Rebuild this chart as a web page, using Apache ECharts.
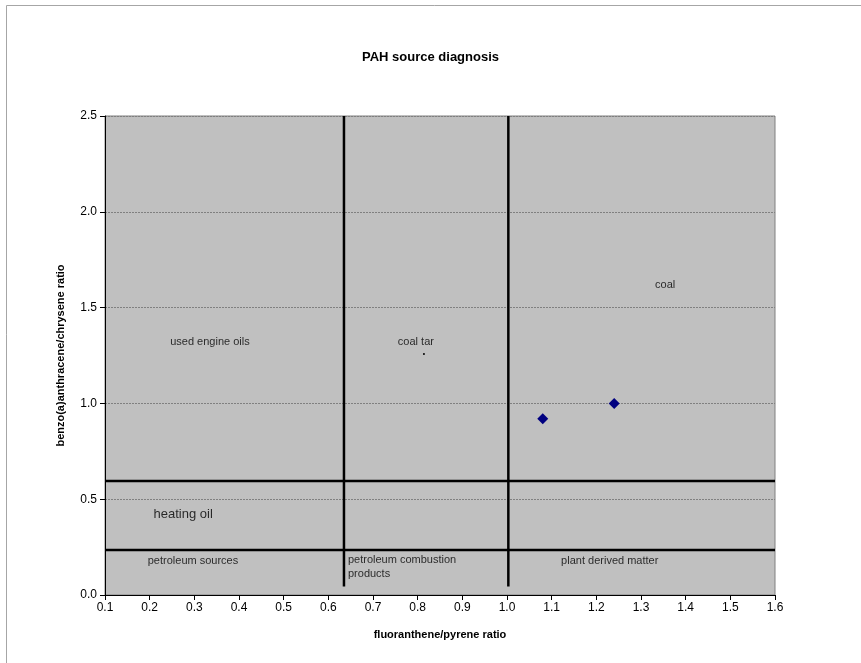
<!DOCTYPE html>
<html>
<head>
<meta charset="utf-8">
<script src="https://cdn.jsdelivr.net/npm/echarts@6/dist/echarts.min.js"></script>
<style>
  html, body { margin: 0; padding: 0; background: #fff; }
  #chart { width: 861px; height: 663px; }
</style>
</head>
<body>
<div id="chart"></div>
<script>
// Measured samples: fluoranthene/pyrene vs benzo(a)anthracene/chrysene
const sampleX = [1.08, 1.24];
const sampleY = [0.92, 1.0];

// Stray point inside the coal tar box
const strayPoint = [[0.814, 1.258]];

// Diagnostic boundaries
const vBoundaries = [0.635, 1.003];        // fluoranthene/pyrene cut-offs
const vBoundaryRange = [0.045, 2.5];
const hBoundaries = [0.595, 0.235];        // benzo(a)anthracene/chrysene cut-offs
const hBoundaryRange = [0.1, 1.6];

// Source region names and where they sit (data units)
const regionNames = ['used engine oils', 'coal tar', 'coal', 'petroleum sources', 'plant derived matter'];
const regionX = [0.335, 0.796, 1.354, 0.297, 1.23];
const regionY = [1.32, 1.32, 1.62, 0.18, 0.18];
const heatingOil = { name: 'heating oil', x: 0.275, y: 0.42 };
const combustion = { name: 'petroleum combustion\nproducts', x: 0.644, y: 0.146 };

const xTicks = [0.1, 1.6, 0.1];
const yTicks = [0, 2.5, 0.5];

const FONT = '"Liberation Sans", Arial, sans-serif';

const series = [];

vBoundaries.forEach(function (v) {
  series.push({
    type: 'line', data: [[v, vBoundaryRange[0]], [v, vBoundaryRange[1]]],
    symbol: 'none', silent: true,
    lineStyle: { color: '#000', width: 2.5 }, z: 3
  });
});
hBoundaries.forEach(function (h) {
  series.push({
    type: 'line', data: [[hBoundaryRange[0], h], [hBoundaryRange[1], h]],
    symbol: 'none', silent: true,
    lineStyle: { color: '#000', width: 2.5 }, z: 3
  });
});

series.push({
  type: 'scatter', symbol: 'circle', symbolSize: 0, silent: true,
  data: regionNames.map(function (n, i) { return { value: [regionX[i], regionY[i]], name: n }; }),
  label: { show: true, position: 'inside', formatter: '{b}', color: '#000', fontSize: 11, fontFamily: FONT },
  z: 4
});
series.push({
  type: 'scatter', symbol: 'circle', symbolSize: 0, silent: true,
  data: [{ value: [heatingOil.x, heatingOil.y], name: heatingOil.name }],
  label: { show: true, position: 'inside', formatter: '{b}', color: '#000', fontSize: 13, fontFamily: FONT },
  z: 4
});
series.push({
  type: 'scatter', symbol: 'circle', symbolSize: 0, silent: true,
  data: [{ value: [combustion.x, combustion.y], name: combustion.name }],
  label: { show: true, position: 'inside', formatter: '{b}', align: 'left', color: '#000', fontSize: 11, lineHeight: 14, fontFamily: FONT },
  z: 4
});

series.push({
  type: 'scatter', symbol: 'circle', symbolSize: 2,
  data: strayPoint, itemStyle: { color: '#000', opacity: 1 }, z: 5
});

series.push({
  type: 'scatter', symbol: 'diamond', symbolSize: 11,
  data: sampleX.map(function (x, i) { return [x, sampleY[i]]; }),
  itemStyle: { color: '#000080', opacity: 1 }, z: 6
});

const chart = echarts.init(document.getElementById('chart'), null, { renderer: 'canvas' });
chart.setOption({
  animation: false,
  backgroundColor: '#fff',
  title: {
    text: 'PAH source diagnosis', left: 'center', top: 46,
    textStyle: { fontFamily: FONT, fontSize: 13, fontWeight: 'bold', color: '#000' }
  },
  graphic: [{
    type: 'rect', shape: { x: 6.5, y: 5.5, width: 900, height: 700 },
    style: { fill: 'none', stroke: '#a6a6a6', lineWidth: 1 }, silent: true, z: -1
  }],
  grid: {
    left: 105, top: 116, width: 670, height: 479,
    show: true, backgroundColor: '#C0C0C0', borderColor: '#808080', borderWidth: 1
  },
  xAxis: {
    type: 'value', min: xTicks[0], max: xTicks[1], interval: xTicks[2],
    name: 'fluoranthene/pyrene ratio', nameLocation: 'middle', nameGap: 34,
    nameTextStyle: { fontFamily: FONT, fontSize: 11, fontWeight: 'bold', color: '#000' },
    axisLine: { lineStyle: { color: '#000', width: 1 } },
    axisTick: { show: true, length: 5, lineStyle: { color: '#000' } },
    axisLabel: { fontFamily: FONT, fontSize: 12, color: '#000', margin: 7,
      formatter: function (v) { return v.toFixed(1); } },
    splitLine: { show: false }
  },
  yAxis: {
    type: 'value', min: yTicks[0], max: yTicks[1], interval: yTicks[2],
    name: 'benzo(a)anthracene/chrysene ratio', nameLocation: 'middle', nameGap: 39,
    nameTextStyle: { fontFamily: FONT, fontSize: 11, fontWeight: 'bold', color: '#000' },
    axisLine: { show: true, lineStyle: { color: '#000', width: 1 } },
    axisTick: { show: true, length: 5, lineStyle: { color: '#000' } },
    axisLabel: { fontFamily: FONT, fontSize: 12, color: '#000', margin: 8,
      formatter: function (v) { return v.toFixed(1); } },
    splitLine: { show: true, lineStyle: { color: '#808080', type: [2, 1], width: 1 } }
  },
  series: series
});
</script>
</body>
</html>
